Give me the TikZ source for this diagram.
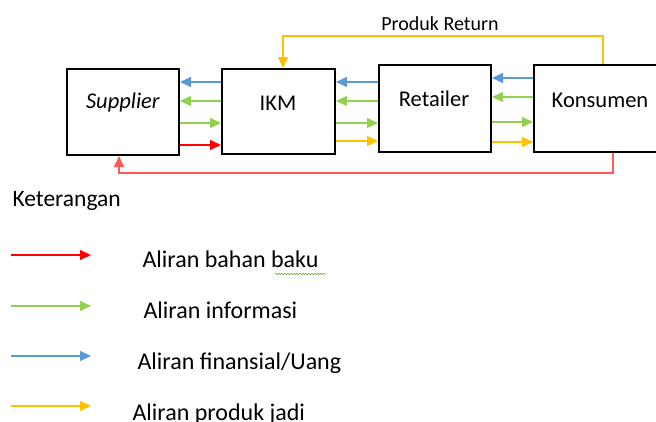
\documentclass[tikz,border=0pt]{standalone}
\usepackage{fontspec}
\setmainfont{Carlito}
\usetikzlibrary{arrows.meta,calc,decorations.pathmorphing}
\definecolor{Bahan}{RGB}{255, 0, 0}
\definecolor{Balik}{RGB}{255, 90, 90}
\definecolor{Info}{RGB}{146, 208, 80}
\definecolor{Uang}{RGB}{91, 155, 213}
\definecolor{Jadi}{RGB}{255, 192, 0}
\tikzset{
    box/.style={draw, line width=2pt, minimum width=#1, inner sep=0pt},
    boxtext/.style={anchor=base, font=\fontsize{22.5}{26}\selectfont},
    flow/.style={line width=1.5pt, -{Triangle[length=11pt,width=10pt]}},
    legtext/.style={anchor=base west, font=\fontsize{24}{28}\selectfont},
}

\begin{document}
\begin{tikzpicture}[x=1pt, y=-1pt]
    %% Background
    \useasboundingbox (0,0) rectangle (656,421);

    %% Boxes
    \node (sup) [box=112pt, minimum height=86pt] at (123,112) {};
    \node (ikm) [box=113pt, minimum height=85pt] at (278.5,111.5) {};
    \node (ret) [box=112pt, minimum height=87pt] at (435,108.5) {};
    \node (kon) [box=132pt, minimum height=87pt] at (600,108.5) {};
    \node (suptext) [boxtext] at (123,108) {\textit{Supplier}};
    \node (ikmtext) [boxtext] at (278,110) {IKM};
    \node (rettext) [boxtext] at (434,106) {Retailer};
    \node (kontext) [boxtext] at (600,107) {Konsumen};

    %% Supplier -- IKM
    \draw[flow, Uang] (ikm.west |- 0,82) to (sup.east |- 0,82);
    \draw[flow, Info] (ikm.west |- 0,101) to (sup.east |- 0,101);
    \draw[flow, Info] (sup.east |- 0,123) to (ikm.west |- 0,123);
    \draw[flow, Bahan] (sup.east |- 0,145) to (ikm.west |- 0,145);

    %% IKM -- Retailer
    \draw[flow, Uang] (ret.west |- 0,82) to (ikm.east |- 0,82);
    \draw[flow, Info] (ret.west |- 0,101) to (ikm.east |- 0,101);
    \draw[flow, Info] (ikm.east |- 0,123) to (ret.west |- 0,123);
    \draw[flow, Jadi] (ikm.east |- 0,141) to (ret.west |- 0,141);

    %% Retailer -- Konsumen
    \draw[flow, Uang] (kon.west |- 0,78) to (ret.east |- 0,78);
    \draw[flow, Info] (kon.west |- 0,97) to (ret.east |- 0,97);
    \draw[flow, Info] (ret.east |- 0,122) to (kon.west |- 0,122);
    \draw[flow, Jadi] (ret.east |- 0,142) to (kon.west |- 0,142);

    %% Return paths
    \draw[flow, line width=1.3pt, Jadi] (kon.north -| 603,0) |- (283,36) to (ikm.north -| 283,0);
    \node (ret label) [anchor=base, font=\fontsize{20}{22}\selectfont] at (440,30) {Produk Return};
    \draw[flow, line width=1.3pt, Balik] (kon.south -| 613,0) |- (119,173) to (sup.south -| 119,0);

    %% Legend
    \node (ket) [anchor=base west, font=\fontsize{23.5}{27}\selectfont] at (9,206) {Keterangan};
    \coordinate (a1) at (11,255); \coordinate (b1) at (91,255);
    \coordinate (a2) at (11,306); \coordinate (b2) at (91,306);
    \coordinate (a3) at (11,356); \coordinate (b3) at (91,356);
    \coordinate (a4) at (11,406); \coordinate (b4) at (91,406);
    \draw[flow, line width=1.2pt, Bahan] (a1) to (b1);
    \draw[flow, line width=1.2pt, Info] (a2) to (b2);
    \draw[flow, line width=1.2pt, Uang] (a3) to (b3);
    \draw[flow, line width=1.2pt, Jadi] (a4) to (b4);
    \node (leg1) [legtext] at (139,267) {Aliran bahan baku};
    \node (leg2) [legtext] at (140,318) {Aliran informasi};
    \node (leg3) [legtext] at (134,369) {Aliran finansial/Uang};
    \node (leg4) [legtext] at (129,420) {Aliran produk jadi};
    \draw[Info!80!black, line width=0.6pt, decorate,
        decoration={snake, amplitude=0.8pt, segment length=3pt}]
        (275,274) to (326,274);
\end{tikzpicture}
\end{document}
